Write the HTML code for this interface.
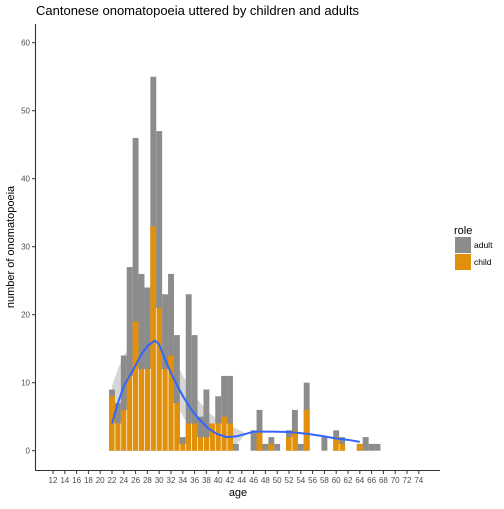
<!DOCTYPE html>
<html><head><meta charset="utf-8"><style>
body{margin:0;background:#fff;}
svg text{font-family:"Liberation Sans",Arial,sans-serif;}
</style></head><body>
<svg id="chart" width="504" height="504" viewBox="0 0 504 504" xmlns="http://www.w3.org/2000/svg">
<text x="36" y="15" font-size="13" fill="#000">Cantonese onomatopoeia uttered by children and adults</text>
<g id="band"></g><g id="bars"></g><g id="smooth"></g>
<line x1="35.5" y1="24" x2="35.5" y2="470" stroke="#333" stroke-width="1.1"/>
<line x1="35" y1="470.5" x2="440" y2="470.5" stroke="#333" stroke-width="1.1"/>
<g id="yticks"></g><g id="xticks"></g>
<text x="238" y="496" font-size="11" text-anchor="middle">age</text>
<text transform="translate(14,247) rotate(-90)" font-size="11" text-anchor="middle">number of onomatopoeia</text>
<g>
<text x="454" y="234" font-size="11">role</text>
<rect x="455" y="237" width="16" height="16" fill="#8c8c8c"/>
<text x="474" y="248" font-size="8.5">adult</text>
<rect x="455" y="254" width="16" height="16" fill="#e0900a"/>
<text x="474" y="265" font-size="8.5">child</text>
</g>
</svg>
<script>
const ages=[22,23,24,25,26,27,28,29,30,31,32,33,34,35,36,37,38,39,40,41,42,43,46,47,48,49,50,52,53,54,55,58,60,61,64,65,66,67];
const totals=[9,7,14,27,46,26,24,55,47,23,26,17,2,23,17,5,9,4,8,11,11,1,3,6,1,2,1,3,6,1,10,2,3,2,1,2,1,1];
const childCounts=[8,4,6,11,19,12,12,33,21,12,14,7,1,4,4,2,2,4,4,5,4,0,0,3,0,1,0,2,3,0,6,0,2,1,1,0,0,0];
const smoothX=[22,23,24,25.6,27,28,29.3,30,31.3,32.5,34.1,35.5,36.9,38.3,39.7,41.4,43,44.8,46,49,52,55,58,60,62,64];
const smoothY=[4,7,9.5,11.9,14.2,15.4,16.2,15.6,12.8,10.5,7.9,6,4.5,3.3,2.5,2,2.1,2.5,2.8,2.8,2.75,2.5,2.1,1.8,1.6,1.3];
const bandHalf=[5.5,5,4.5,4,3.7,3.5,3.5,3.4,3.2,3,3,2.8,2.6,2.4,2.2,1.8,1.2,0,0,0,0,0,0,0,0,0];
const yTicks=[0,10,20,30,40,50,60];
const xTicks=[];for(let a=12;a<=74;a+=2)xTicks.push(a);
const NS="http://www.w3.org/2000/svg";
const X=a=>53+(a-12)*5.9;
const Y=v=>450.7-v*6.8;
function mk(tag,attrs,parent){const e=document.createElementNS(NS,tag);for(const k in attrs)e.setAttribute(k,attrs[k]);document.getElementById(parent).appendChild(e);return e;}
// band
let pts=smoothX.map((a,i)=>X(a)+","+Y(smoothY[i]+bandHalf[i]));
for(let i=smoothX.length-1;i>=0;i--)pts.push(X(smoothX[i])+","+Y(Math.max(0,smoothY[i]-bandHalf[i])));
const band=mk("polygon",{points:pts.join(" "),fill:"#999",opacity:"0.4"},"band");


// bars
ages.forEach((a,i)=>{
  const x0=X(a)-2.95;
  const g=mk("rect",{x:x0,y:Y(totals[i]),width:5.9,height:Y(0)-Y(totals[i]),fill:"#8c8c8c"},"bars");
  
  
  if(childCounts[i]>0){
    const c=mk("rect",{x:x0,y:Y(childCounts[i]),width:5.9,height:Y(0)-Y(childCounts[i]),fill:"#e0900a"},"bars");
    
    
    const j=ages.indexOf(a-1);
    if(j>=0&&childCounts[j]>0){
      const h=Math.min(childCounts[i],childCounts[j]);
      const s=mk("line",{x1:x0,x2:x0,y1:Y(h),y2:Y(0),stroke:"#fff","stroke-width":"0.7"},"bars");
      
      
    }
  }
});
// smooth line
const line=mk("polyline",{points:smoothX.map((a,i)=>X(a)+","+Y(smoothY[i])).join(" "),fill:"none",stroke:"#3366ff","stroke-width":"2","stroke-linejoin":"round"},"smooth");


// ticks
yTicks.forEach(v=>{
  const t=mk("line",{x1:32,x2:35,y1:Y(v),y2:Y(v),stroke:"#333"},"yticks");
  
  
  const l=mk("text",{x:30,y:Y(v)+3,"font-size":"8","text-anchor":"end",fill:"#4d4d4d"},"yticks");
  l.textContent=v;
  
  
});
xTicks.forEach(v=>{
  const t=mk("line",{x1:X(v),x2:X(v),y1:471,y2:474,stroke:"#333"},"xticks");
  
  
  const l=mk("text",{x:X(v),y:483,"font-size":"8","text-anchor":"middle",fill:"#4d4d4d"},"xticks");
  l.textContent=v;
  
  
});
</script>
</body></html>
